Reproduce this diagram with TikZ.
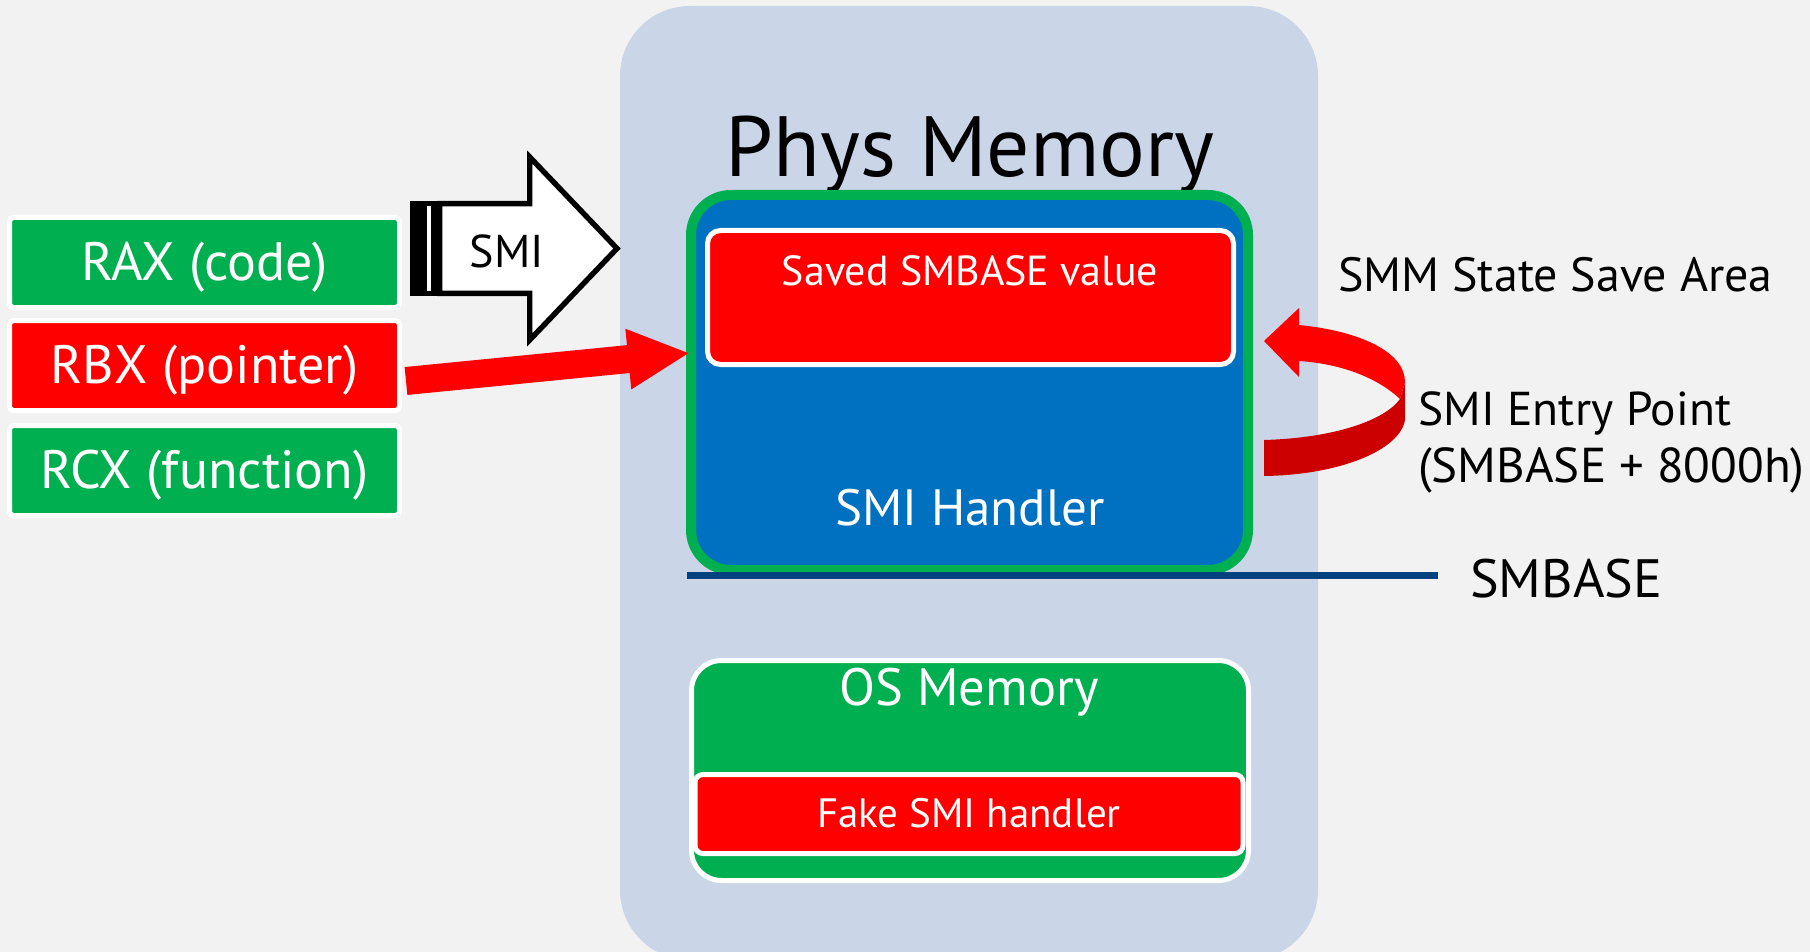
\documentclass[tikz,border=0pt]{standalone}
\usepackage{fontspec}
\setmainfont{PT Sans}
\usetikzlibrary{arrows.meta}
\definecolor{bgc}{HTML}{F2F2F2}
\definecolor{physc}{HTML}{CAD5E8}
\definecolor{grn}{HTML}{00B050}
\definecolor{blu}{HTML}{0070C0}
\definecolor{rd}{HTML}{FF0000}
\definecolor{drd}{HTML}{CC0000}
\definecolor{navy}{HTML}{00417F}
\newcommand\fsz[1]{\fontsize{#1}{#1}\selectfont}
\begin{document}
\begin{tikzpicture}[x=1pt,y=-1pt,
  boxw/.style={draw=white, line width=5pt, inner sep=0pt, outer sep=0pt},
  wtxt/.style={text=white, anchor=base, inner sep=0pt},
  btxt/.style={text=black, anchor=base west, inner sep=0pt},
  regbox/.style={boxw, rounded corners=4pt, minimum width=390pt, minimum height=90pt}]
\useasboundingbox (0,0) rectangle (1810,952);
\fill[bgc] (0,0) rectangle (1810,952);
\clip (0,0) rectangle (1810,952);

% phys memory region
\node[fill=physc, rounded corners=70pt, minimum width=698pt, minimum height=954pt, inner sep=0pt, outer sep=0pt] (phys) at (969,483) {};
\node[anchor=base, inner sep=0pt, font=\fsz{85.5}] (physt) at (970,177) {Phys Memory};

% SMI handler
\node[draw=grn, fill=blu, line width=10pt, rounded corners=40pt, minimum width=557pt, minimum height=375pt, inner sep=0pt, outer sep=0pt] (handler) at (969.5,382.5) {};
\node[boxw, fill=rd, rounded corners=13pt, minimum width=526pt, minimum height=134pt] (saved) at (970.5,297.5) {};
\node[wtxt, font=\fsz{42}] (savedt) at (970,285) {Saved SMBASE value};
\node[wtxt, font=\fsz{51}] (handlert) at (970,525) {SMI Handler};

% SMBASE line
\coordinate (l1) at (687,575.5);
\coordinate (l2) at (1438,575.5);
\draw[navy, line width=7pt] (l1) -- (l2);

% OS memory
\node[boxw, fill=grn, rounded corners=30pt, minimum width=557pt, minimum height=220pt] (os) at (970,770.5) {};
\node[wtxt, font=\fsz{52.5}] (ost) at (969,705) {OS Memory};
\node[boxw, fill=rd, rounded corners=8pt, minimum width=548pt, minimum height=79pt] (fake) at (969,814) {};
\node[wtxt, font=\fsz{41}] (faket) at (969,827) {Fake SMI handler};

% registers
\node[regbox, fill=grn] (rax) at (204.5,262.5) {};
\node[wtxt, font=\fsz{54}] (raxt) at (204.5,280) {RAX (code)};
\node[regbox, fill=rd] (rbx) at (204.5,365.5) {};
\node[wtxt, font=\fsz{54}] (rbxt) at (204.5,383) {RBX (pointer)};
\node[regbox, fill=grn] (rcx) at (204.5,470.5) {};
\node[wtxt, font=\fsz{54}] (rcxt) at (204.5,488) {RCX (function)};

% SMI striped arrow
\begin{scope}[line width=5.4pt, draw=black, fill=white, miter limit=10]
\filldraw (413,203.7) rectangle (418.3,293.3);
\filldraw (423.8,203.7) rectangle (434,293.3);
\filldraw (439.7,203.7) -- (529.7,203.7) -- (529.7,157) -- (617,248.5) -- (529.7,340) -- (529.7,293.3) -- (439.7,293.3) -- cycle;
\end{scope}
\node[anchor=base, inner sep=0pt, font=\fsz{46}] (smit) at (507,268) {SMI};

% red straight arrow
\coordinate (a1) at (406,381);
\coordinate (a2) at (690,353);
\draw[rd, line width=28pt, -{Triangle[length=62pt,width=56pt]}] (a1) -- (a2);

% curved arrow
\fill[drd] (1264,440) .. controls (1335,438) and (1385,420) .. (1400,399) -- (1405,382) -- (1405,420) .. controls (1400,450) and (1340,475) .. (1264,476) -- cycle;
\fill[rd] (1299,325) .. controls (1360,331) and (1405,352) .. (1405,382) -- (1400,399) .. controls (1380,380) and (1345,364) .. (1299,361) -- (1299,377) -- (1264,341) -- (1299,308) -- cycle;

% right labels
\node[btxt, font=\fsz{48}] (ssa) at (1338,291) {SMM State Save Area};
\node[btxt, font=\fsz{47.5}] (entry1) at (1418,425) {SMI Entry Point};
\node[btxt, font=\fsz{49}] (entry2) at (1418,482) {(SMBASE + 8000h)};
\node[btxt, font=\fsz{54}] (smbase) at (1470,597) {SMBASE};
\end{tikzpicture}
\end{document}
